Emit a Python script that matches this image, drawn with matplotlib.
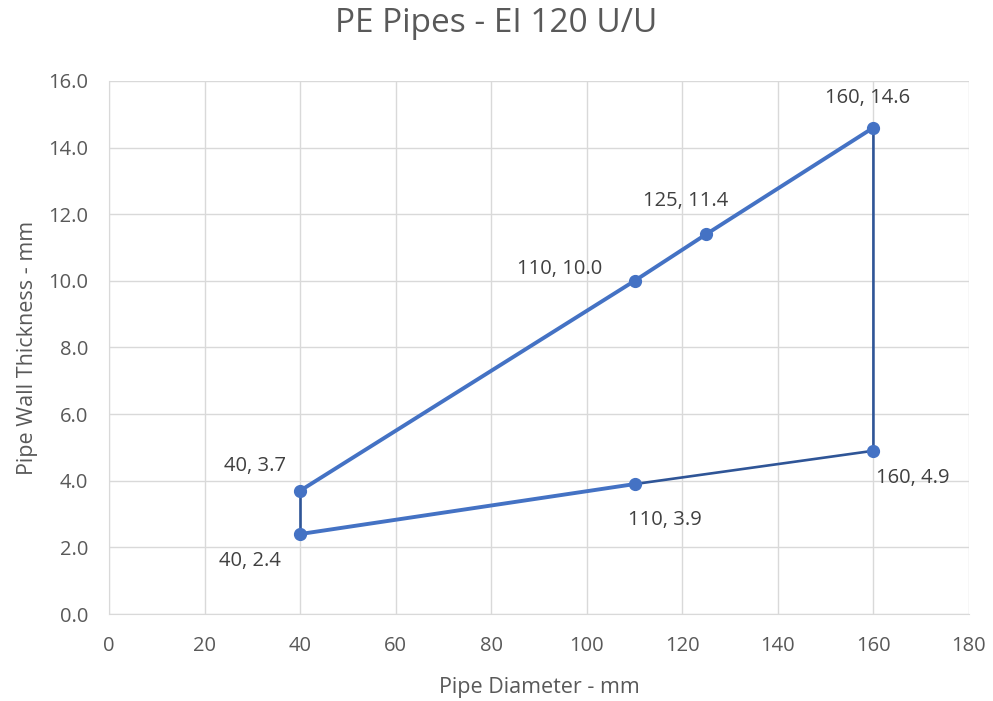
import matplotlib
matplotlib.use("Agg")
import matplotlib.pyplot as plt

plt.rcParams['font.family'] = ['Open Sans', 'DejaVu Sans']

# Series
upper_x = [40, 110, 125, 160]
upper_y = [3.7, 10.0, 11.4, 14.6]
lower_left_x = [40, 110]
lower_left_y = [2.4, 3.9]
closing_x = [40, 40]
closing_y = [3.7, 2.4]
right_x = [160, 160, 110]
right_y = [14.6, 4.9, 3.9]

point_x = [40, 40, 110, 110, 125, 160, 160]
point_y = [3.7, 2.4, 3.9, 10.0, 11.4, 14.6, 4.9]
point_labels = ["40, 3.7", "40, 2.4", "110, 3.9", "110, 10.0", "125, 11.4", "160, 14.6", "160, 4.9"]
label_offsets = [(-45, 25), (-50, -27), (30, -36), (-75, 12), (-21, 33), (-6, 30), (39, -27)]

x_ticks = list(range(0, 181, 20))
y_ticks = [0, 2, 4, 6, 8, 10, 12, 14, 16]

fig = plt.figure(figsize=(9.93, 7.01), dpi=100)
ax = fig.add_axes([0.1098, 0.1241, 0.8660, 0.7604])

blue = '#4472C4'
dark = '#2F5597'
grey = '#595959'

ax.plot(closing_x, closing_y, color=dark, lw=1.9, zorder=3)
ax.plot(right_x, right_y, color=dark, lw=1.9, zorder=3)
ax.plot(upper_x, upper_y, color=blue, lw=2.8, zorder=4)
ax.plot(lower_left_x, lower_left_y, color=blue, lw=2.8, zorder=4)
ax.plot(point_x, point_y, 'o', color=blue, ms=8.5, zorder=5)

for x, y, t, (dx, dy) in zip(point_x, point_y, point_labels, label_offsets):
    ax.annotate(t, (x, y), xytext=(dx, dy), textcoords='offset pixels',
                ha='center', va='center', fontsize=14.5, color='#404040')

ax.set_xlim(0, 180)
ax.set_ylim(0, 16)
ax.set_xticks(x_ticks)
ax.set_yticks(y_ticks)
ax.set_yticklabels([f"{v:.1f}" for v in y_ticks])
ax.grid(True, color='#D9D9D9', lw=1)
ax.set_axisbelow(True)
for s in ['top', 'right']:
    ax.spines[s].set_visible(False)
for s in ['left', 'bottom']:
    ax.spines[s].set_color('#D9D9D9')
ax.tick_params(length=0, colors=grey, labelsize=14.5)
ax.tick_params(axis='x', pad=16)
ax.tick_params(axis='y', pad=15)

ax.set_xlabel('Pipe Diameter - mm', fontsize=15.5, color=grey, labelpad=15)
ax.set_ylabel('Pipe Wall Thickness - mm', fontsize=15.5, color=grey, labelpad=7)
fig.suptitle('PE Pipes - EI 120 U/U', fontsize=24, color=grey, y=0.99)

fig.savefig('out.png', dpi=100)
